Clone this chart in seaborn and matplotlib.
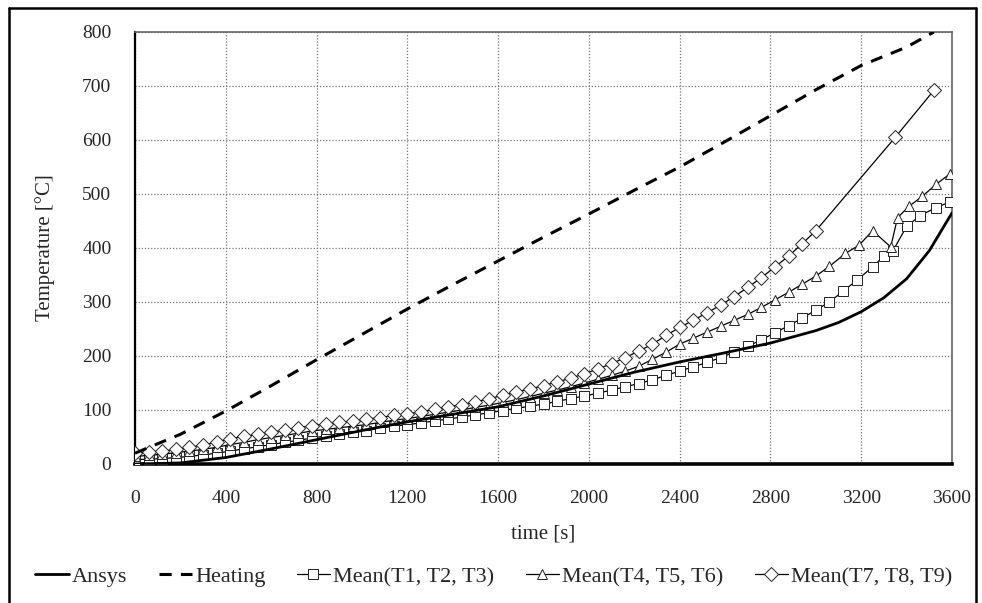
import matplotlib
matplotlib.use("Agg")
import matplotlib.pyplot as plt
from matplotlib.lines import Line2D
import seaborn as sns

# ── Data ─────────────────────────────────────────────────────────────────────
time_ansys = [0, 200, 400, 600, 800, 1000, 1200, 1400, 1600, 1800, 2000, 2200,
              2400, 2600, 2800, 3000, 3100, 3200, 3300, 3400, 3500, 3600]
temp_ansys = [0, 2, 12, 28, 45, 62, 78, 92, 106, 126, 148, 170,
              189, 206, 224, 247, 262, 282, 308, 343, 395, 465]

time_heating = [0, 200, 400, 600, 800, 1000, 1200, 1400, 1600, 1800, 2000, 2200,
                2400, 2600, 2800, 3000, 3200, 3400, 3520]
temp_heating = [20, 55, 98, 145, 193, 240, 287, 332, 376, 420, 463, 507,
                550, 597, 645, 693, 738, 772, 800]

# measured means, one reading every 60 s up to 3000 s
time_meas = [0, 60, 120, 180, 240, 300, 360, 420, 480, 540, 600, 660, 720, 780, 840,
             900, 960, 1020, 1080, 1140, 1200, 1260, 1320, 1380, 1440, 1500, 1560,
             1620, 1680, 1740, 1800, 1860, 1920, 1980, 2040, 2100, 2160, 2220, 2280,
             2340, 2400, 2460, 2520, 2580, 2640, 2700, 2760, 2820, 2880, 2940, 3000]

mean_t123 = [8, 9, 10, 12, 14, 17, 20, 24, 28, 32, 36, 40, 44, 48, 52,
             56, 59, 62, 66, 70, 73, 76, 80, 83, 87, 91, 95,
             99, 103, 107, 111, 116, 121, 126, 131, 137, 143, 149, 156,
             164, 172, 180, 188, 197, 207, 218, 230, 243, 256, 270, 285]
mean_t456 = [14, 16, 18, 21, 24, 27, 31, 36, 40, 45, 49, 53, 57, 61, 64,
             67, 70, 73, 77, 81, 84, 88, 92, 96, 100, 105, 109,
             114, 119, 125, 131, 137, 143, 150, 157, 164, 172, 181, 194,
             207, 222, 233, 244, 255, 266, 277, 290, 304, 318, 333, 348]
mean_t789 = [20, 22, 24, 27, 31, 35, 41, 47, 51, 55, 59, 63, 67, 71, 74,
             77, 80, 83, 86, 90, 93, 97, 101, 106, 110, 115, 121,
             127, 133, 139, 145, 152, 159, 167, 176, 186, 197, 209, 222,
             238, 253, 266, 280, 294, 310, 327, 345, 365, 385, 408, 432]

# sparser readings at the end of the test
time_t123_end = [3060, 3120, 3180, 3250, 3300, 3340, 3400, 3460, 3530, 3590]
temp_t123_end = [300, 320, 340, 365, 385, 395, 440, 460, 475, 485]
time_t456_end = [3060, 3130, 3190, 3250, 3330, 3360, 3410, 3470, 3530, 3590]
temp_t456_end = [366, 390, 405, 432, 402, 456, 477, 496, 518, 537]
time_t789_end = [3350, 3520]
temp_t789_end = [605, 692]

x_ticks = list(range(0, 3601, 400))
y_ticks = list(range(0, 801, 100))

# ── Plot ──────────────────────────────────────────────────────────────────────
sns.set_style("white")
plt.rcParams["font.family"] = ["Liberation Serif", "DejaVu Serif"]

fig = plt.figure(figsize=(9.82, 6.03), dpi=100)
ax = fig.add_axes([135 / 982, 1 - 464 / 603, 817 / 982, 432 / 603])

marker_kw = dict(color="black", lw=0.9, markersize=7.5, markerfacecolor="white",
                 markeredgecolor="#222222", markeredgewidth=0.7)

sns.lineplot(x=time_ansys, y=temp_ansys, ax=ax, color="black", lw=2.0,
             label="Ansys", zorder=6)
sns.lineplot(x=time_heating, y=temp_heating, ax=ax, color="black", lw=2.2,
             label="Heating", zorder=4)
ax.lines[-1].set_dashes([4, 3])
sns.lineplot(x=time_meas + time_t123_end, y=mean_t123 + temp_t123_end, ax=ax,
             marker="s", label="Mean(T1, T2, T3)", zorder=3, **marker_kw)
sns.lineplot(x=time_meas + time_t456_end, y=mean_t456 + temp_t456_end, ax=ax,
             marker="^", label="Mean(T4, T5, T6)", zorder=3, **marker_kw)
sns.lineplot(x=time_meas + time_t789_end, y=mean_t789 + temp_t789_end, ax=ax,
             marker="D", label="Mean(T7, T8, T9)", zorder=3, **marker_kw)

ax.set_xlim(0, 3600)
ax.set_ylim(0, 800)
ax.set_xticks(x_ticks)
ax.set_yticks(y_ticks)
ax.grid(True, color="#777777", lw=0.9, ls=(0, (1, 1.5)))
ax.tick_params(axis="x", length=5, color="#888888", pad=14, labelsize=14)
ax.tick_params(axis="y", length=5, color="#888888", pad=12, labelsize=14)

ax.spines["bottom"].set_linewidth(2.6)
ax.spines["bottom"].set_color("black")
ax.spines["left"].set_linewidth(1.6)
ax.spines["left"].set_color("black")
for s in ("top", "right"):
    ax.spines[s].set_linewidth(1.2)
    ax.spines[s].set_color("#666666")

ax.set_xlabel("time [s]", fontsize=15)
ax.xaxis.set_label_coords(0.5, -(534 - 464) / 432)
ax.xaxis.label.set_va("center")
ax.set_ylabel("Temperature [°C]", fontsize=15)
ax.yaxis.set_label_coords(-(135 - 45) / 817, 0.5)
ax.yaxis.label.set_va("center")

handles, labels = ax.get_legend_handles_labels()
ax.legend(handles, labels, loc="center", bbox_to_anchor=(494 / 982, 1 - 577 / 603),
          bbox_transform=fig.transFigure, ncol=5, frameon=False, fontsize=16,
          handlelength=1.5, handletextpad=0.15, columnspacing=1.4)

# outer frame around the whole picture
for xs, ys in [((9 / 982, 976 / 982), (1 - 8 / 603, 1 - 8 / 603)),
               ((9 / 982, 9 / 982), (1 - 8 / 603, 0)),
               ((976 / 982, 976 / 982), (1 - 8 / 603, 0))]:
    fig.add_artist(Line2D(xs, ys, color="black", lw=1.8, transform=fig.transFigure))

fig.savefig("out.png", dpi=100)
